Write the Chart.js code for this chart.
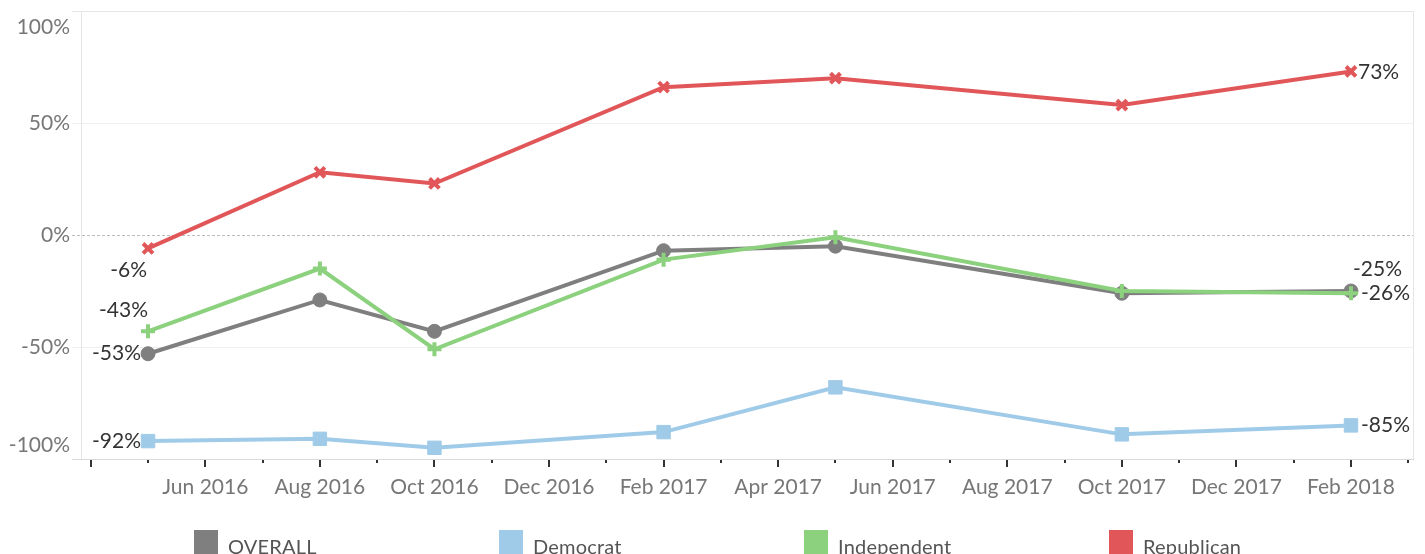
<!DOCTYPE html>
<html>
<head>
<meta charset="utf-8">
<script src="https://cdn.jsdelivr.net/npm/chart.js@4/dist/chart.umd.min.js"></script>
<style>
  body { margin: 0; background: #fff; font-family: Lato, "Noto Sans", sans-serif; }
  #wrap { position: relative; width: 1425px; height: 554px; overflow: hidden; }
  #myChart { display: block; }
  #legenda { position: absolute; left: 194px; top: 530px; display: flex; }
  .item { width: 305px; display: flex; align-items: flex-start; }
  .caixa { width: 24px; height: 24px; margin-right: 10px; }
  .nome { font-size: 20px; color: #555; line-height: 24px; margin-top: 4px; letter-spacing: 0.2px; }
</style>
</head>
<body>
<div id="wrap">
  <canvas id="myChart" width="1425" height="554"></canvas>
  <div id="legenda"></div>
</div>
<script>
// meses contados a partir de Jan 2016 (0 = Jan 2016)
var meses = [4, 7, 9, 13, 16, 21, 25]
var nomesMes = ['Jan','Feb','Mar','Apr','May','Jun','Jul','Aug','Sep','Oct','Nov','Dec']

var series = ['OVERALL', 'Democrat', 'Independent', 'Republican']
var overall = [-53, -29, -43, -7, -5, -26, -25]
var democrat = [-92, -91, -95, -88, -68, -89, -85]
var independent = [-43, -15, -51, -11, -1, -25, -26]
var republican = [-6, 28, 23, 66, 70, 58, 73]
var cores = ['#7f7f7f', '#a0cbe8', '#8cd17d', '#e15759']
var marcadores = ['circle', 'rect', 'cross', 'crossRot']
var yTicks = [100, 50, 0, -50, -100]

// onde fica o rotulo do primeiro e do ultimo ponto
var rotulos = [
    { ini: [-7, 0], fim: [2, -22] },
    { ini: [-7, 0], fim: [10, 0] },
    { ini: [0, -21], fim: [10, 0] },
    { ini: [-1, 22], fim: [7, 1] }
]

var valores = [overall, democrat, independent, republican]

var datasets = []
series.forEach((nome, i) => {
    var cruz = marcadores[i] == 'cross' || marcadores[i] == 'crossRot'
    datasets.push({
        label: nome,
        data: meses.map((m, j) => ({ x: m, y: valores[i][j] })),
        borderColor: cores[i],
        backgroundColor: cores[i],
        borderWidth: 4,
        pointStyle: marcadores[i],
        pointRadius: marcadores[i] == 'rect' ? 9.5 : 7,
        pointBorderWidth: cruz ? 4 : 1,
        tension: 0,
        order: [2, 3, 1, 0][i]
    })
})

// legenda em html
var leg = document.getElementById('legenda')
series.forEach((nome, i) => {
    var item = document.createElement('div')
    item.className = 'item'
    var caixa = document.createElement('div')
    caixa.className = 'caixa'
    caixa.style.background = cores[i]
    var txt = document.createElement('div')
    txt.className = 'nome'
    txt.innerText = nome
    item.append(caixa)
    item.append(txt)
    leg.append(item)
})

var fonte = 'Lato, "Noto Sans", sans-serif'

var desenhos = {
    id: 'desenhos',
    beforeDatasetsDraw(chart) {
        var ctx = chart.ctx
        var a = chart.chartArea
        var y = chart.scales.y
        ctx.save()
        ctx.lineWidth = 1
        // linhas de grade
        yTicks.forEach(v => {
            var py = Math.round(y.getPixelForValue(v)) + 0.5
            ctx.beginPath()
            if (v == 0) {
                ctx.strokeStyle = '#bdbdbd'
                ctx.setLineDash([3, 2])
            } else if (v == 100 || v == -100) {
                ctx.strokeStyle = v == 100 ? '#e6e6e6' : '#d9d9d9'
                ctx.setLineDash([])
            } else {
                ctx.strokeStyle = '#efefef'
                ctx.setLineDash([])
            }
            ctx.moveTo(a.left - 9, py)
            ctx.lineTo(a.right, py)
            ctx.stroke()
        })
        ctx.setLineDash([])
        ctx.strokeStyle = '#e6e6e6'
        ctx.beginPath()
        ctx.moveTo(Math.round(a.left) + 0.5, a.top)
        ctx.lineTo(Math.round(a.left) + 0.5, a.bottom)
        ctx.moveTo(Math.round(a.right) - 0.5, a.top)
        ctx.lineTo(Math.round(a.right) - 0.5, a.bottom)
        ctx.stroke()
        ctx.restore()
    },
    afterDraw(chart) {
        var ctx = chart.ctx
        var a = chart.chartArea
        var x = chart.scales.x
        var y = chart.scales.y
        ctx.save()
        // rotulos do eixo y (os extremos ficam para dentro)
        ctx.font = '21px ' + fonte
        ctx.fillStyle = '#777'
        ctx.textAlign = 'right'
        ctx.textBaseline = 'middle'
        yTicks.forEach(v => {
            var py = y.getPixelForValue(v)
            if (v == 100) py += 16
            if (v == -100) py -= 14
            ctx.fillText(v + '%', a.left - 11, py)
        })
        // marcas do eixo x
        ctx.strokeStyle = '#333'
        ctx.lineWidth = 2
        for (var m = 3; m <= 26; m++) {
            var px = Math.round(x.getPixelForValue(m))
            var tam = m % 2 == 1 ? 7 : 3
            ctx.beginPath()
            ctx.moveTo(px, a.bottom + 1)
            ctx.lineTo(px, a.bottom + 1 + tam)
            ctx.stroke()
        }
        // rotulos dos pontos
        ctx.font = '21px ' + fonte
        ctx.fillStyle = '#333'
        chart.data.datasets.forEach((ds, i) => {
            var pts = chart.getDatasetMeta(i).data
            var p0 = pts[0]
            var p1 = pts[pts.length - 1]
            var r = rotulos[i]
            ctx.textAlign = 'right'
            ctx.fillText(ds.data[0].y + '%', p0.x + r.ini[0], p0.y + r.ini[1])
            ctx.textAlign = 'left'
            ctx.fillText(ds.data[ds.data.length - 1].y + '%', p1.x + r.fim[0], p1.y + r.fim[1])
        })
        ctx.restore()
    }
}

new Chart(document.getElementById('myChart'), {
    type: 'line',
    data: { datasets: datasets },
    plugins: [desenhos],
    options: {
        responsive: false,
        animation: false,
        layout: { padding: { top: 9, right: 0, left: 0, bottom: 0 } },
        plugins: {
            legend: { display: false },
            tooltip: { enabled: false }
        },
        scales: {
            x: {
                type: 'linear',
                min: 2.83,
                max: 26.1,
                afterBuildTicks: s => {
                    var t = []
                    for (var m = 3; m <= 26; m++) t.push({ value: m })
                    s.ticks = t
                },
                afterFit: s => { s.height = 95 },
                grid: { display: false, drawTicks: false },
                border: { display: false },
                ticks: {
                    autoSkip: false,
                    maxRotation: 0,
                    padding: 16,
                    color: '#777',
                    font: { size: 21, family: fonte },
                    callback: v => (v % 2 == 1 && v >= 5) ? nomesMes[v % 12] + ' ' + (2016 + Math.floor(v / 12)) : ''
                }
            },
            y: {
                min: -100,
                max: 100,
                afterFit: s => { s.width = 81 },
                grid: { display: false },
                border: { display: false },
                ticks: { display: false }
            }
        }
    }
})
</script>
</body>
</html>
